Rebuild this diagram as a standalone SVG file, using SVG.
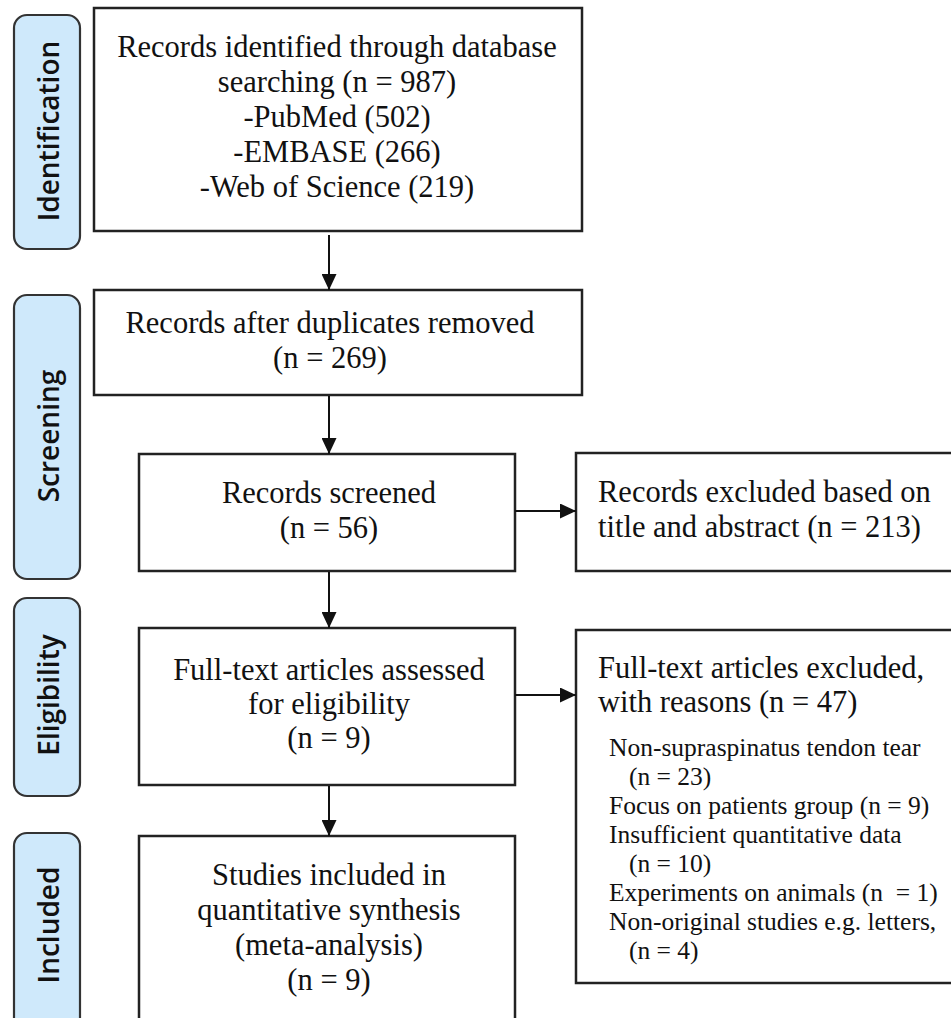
<svg xmlns="http://www.w3.org/2000/svg" width="951" height="1018" viewBox="0 0 951 1018">
<style>
.box{fill:#fff;stroke:#222;stroke-width:2.5}
.lab{fill:#cfe9fb;stroke:#333;stroke-width:2.2}
.lt{font-family:"Open Sans","DejaVu Sans",sans-serif;font-weight:600;font-size:28px;fill:#111;text-anchor:middle}
.t{font-family:"Liberation Serif","Times New Roman",serif;font-size:30.5px;fill:#111}
.c{text-anchor:middle}
.s{font-family:"Liberation Serif","Times New Roman",serif;font-size:25.5px;fill:#111}
.ln{stroke:#111;stroke-width:2;fill:none}
</style>
<defs>
<marker id="a" viewBox="0 0 16 15" refX="16" refY="7.5" markerWidth="16" markerHeight="15" orient="auto" markerUnits="userSpaceOnUse">
<path d="M0,0 L16,7.5 L0,15 z" fill="#111"/>
</marker>
</defs>
<rect width="951" height="1018" fill="#fff"/>

<g id="label-identification">
<rect class="lab" x="14" y="15" width="66" height="234" rx="13"/>
<text class="lt" transform="translate(59,131) rotate(-90)">Identification</text>
</g>
<g id="label-screening">
<rect class="lab" x="14" y="295" width="66" height="284" rx="13"/>
<text class="lt" transform="translate(59,436) rotate(-90)">Screening</text>
</g>
<g id="label-eligibility">
<rect class="lab" x="14" y="598" width="66" height="198" rx="13"/>
<text class="lt" transform="translate(59,695) rotate(-90)">Eligibility</text>
</g>
<g id="label-included">
<rect class="lab" x="14" y="833" width="66" height="200" rx="13"/>
<text class="lt" transform="translate(59,925) rotate(-90)">Included</text>
</g>

<g id="identified">
<rect class="box" x="94" y="8" width="488" height="223"/>
<text class="t c" x="337" y="57">Records identified through database</text>
<text class="t c" x="337" y="92">searching (n = 987)</text>
<text class="t c" x="337" y="127">-PubMed (502)</text>
<text class="t c" x="337" y="162">-EMBASE (266)</text>
<text class="t c" x="337" y="197">-Web of Science (219)</text>
</g>

<g id="duplicates">
<rect class="box" x="94" y="290" width="488" height="105"/>
<text class="t c" x="330" y="333">Records after duplicates removed</text>
<text class="t c" x="330" y="368">(n = 269)</text>
</g>

<g id="screened">
<rect class="box" x="139" y="454" width="376" height="117"/>
<text class="t c" x="329" y="503">Records screened</text>
<text class="t c" x="329" y="538">(n = 56)</text>
</g>

<g id="excluded-title">
<rect class="box" x="576" y="453" width="380" height="118"/>
<text class="t" x="598" y="502">Records excluded based on</text>
<text class="t" x="598" y="537">title and abstract (n = 213)</text>
</g>

<g id="fulltext">
<rect class="box" x="139" y="628" width="376" height="157"/>
<text class="t c" x="329" y="680">Full-text articles assessed</text>
<text class="t c" x="329" y="714">for eligibility</text>
<text class="t c" x="329" y="748">(n = 9)</text>
</g>

<g id="excluded-fulltext">
<rect class="box" x="576" y="630" width="380" height="353"/>
<text class="t" x="598" y="678">Full-text articles excluded,</text>
<text class="t" x="598" y="712">with reasons (n = 47)</text>
<text class="s" x="609" y="756">Non-supraspinatus tendon tear</text>
<text class="s" x="629" y="785">(n = 23)</text>
<text class="s" x="609" y="814">Focus on patients group (n = 9)</text>
<text class="s" x="609" y="843">Insufficient quantitative data</text>
<text class="s" x="629" y="872">(n = 10)</text>
<text class="s" x="609" y="901" xml:space="preserve">Experiments on animals (n  = 1)</text>
<text class="s" x="609" y="930">Non-original studies e.g. letters,</text>
<text class="s" x="629" y="959">(n = 4)</text>
</g>

<g id="included">
<rect class="box" x="139" y="836" width="376" height="200"/>
<text class="t c" x="329" y="885">Studies included in</text>
<text class="t c" x="329" y="920">quantitative synthesis</text>
<text class="t c" x="329" y="955">(meta-analysis)</text>
<text class="t c" x="329" y="990">(n = 9)</text>
</g>

<g id="connectors">
<line class="ln" x1="329" y1="235" x2="329" y2="290" marker-end="url(#a)"/>
<line class="ln" x1="329" y1="396" x2="329" y2="454" marker-end="url(#a)"/>
<line class="ln" x1="329" y1="572" x2="329" y2="628" marker-end="url(#a)"/>
<line class="ln" x1="329" y1="786" x2="329" y2="836" marker-end="url(#a)"/>
<line class="ln" x1="515" y1="511" x2="576" y2="511" marker-end="url(#a)"/>
<line class="ln" x1="515" y1="695" x2="576" y2="695" marker-end="url(#a)"/>
</g>
</svg>
